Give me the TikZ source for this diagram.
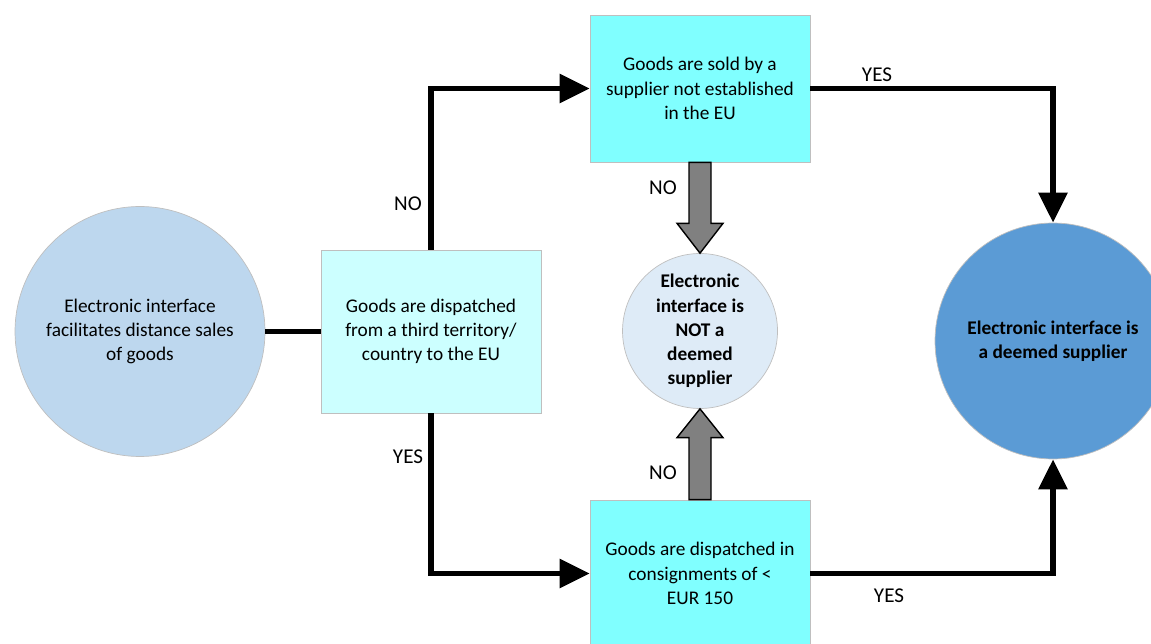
\documentclass[tikz,border=0pt]{standalone}
\usepackage{fontspec}
\setmainfont{Carlito}
\usetikzlibrary{arrows.meta,calc}

\definecolor{boxcyan}{HTML}{80FFFF}
\definecolor{boxpale}{HTML}{CCFFFF}
\definecolor{startblue}{HTML}{BDD7EE}
\definecolor{notblue}{HTML}{DEEBF7}
\definecolor{isblue}{HTML}{5B9BD5}

\begin{document}
\begin{tikzpicture}[x=0.02cm, y=-0.02cm, >={Triangle[length=0.6cm,width=0.56cm]}]
 \tikzstyle{every node}=[font=\fontsize{11}{13.8}\selectfont, align=center]
 \tikzstyle{question}=[draw=black!25, thin, minimum width=4.4cm, minimum height=2.94cm, inner sep=2pt]
 \tikzstyle{result}=[circle, draw=black!25, thin, inner sep=1pt]
 \tikzstyle{flow}=[line width=3.4pt, black]
 \tikzstyle{answer}=[font=\fontsize{12}{14}\selectfont]
 \tikzstyle{blockarrow}=[fill=black!50, draw=black, line width=0.8pt]
 \useasboundingbox (0,0) rectangle (1151,644);

 \node (facil) at (140,331.5) [result, fill=startblue, minimum size=5.0cm] {Electronic interface\\facilitates distance sales\\of goods};
 \node (third) at (431,331.5) [question, fill=boxpale, minimum height=3.26cm] {Goods are dispatched\\from a third territory/\\country to the EU};
 \node (sold) at (700,88.5) [question, fill=boxcyan] {Goods are sold by a\\supplier not established\\in the EU};
 \node (consign) at (700,573.5) [question, fill=boxcyan] {Goods are dispatched in\\consignments of <\\EUR 150};
 \node (notdeemed) at (700,331) [result, fill=notblue, minimum size=3.1cm] {\textbf{Electronic}\\\textbf{interface is}\\\textbf{NOT a}\\\textbf{deemed}\\\textbf{supplier}};
 \node (deemed) at (1053,341) [result, fill=isblue, minimum size=4.72cm] {\textbf{Electronic interface is}\\\textbf{a deemed supplier}};

 \node (noup) at (408,204) [answer] {NO};
 \node (yesdown) at (408,457) [answer] {YES};
 \node (yestop) at (877,75) [answer] {YES};
 \node (yesbottom) at (889,596) [answer] {YES};
 \node (nosold) at (663,188) [answer] {NO};
 \node (noconsign) at (663,473) [answer] {NO};

 \draw [flow] (facil.east) -- (third.west);
 \draw [flow, ->] (third.north) |- (sold.west);
 \draw [flow, ->] (third.south) |- (consign.west);
 \draw [flow, ->] (sold.east) -| (deemed.north);
 \draw [flow, ->] (consign.east) -| (deemed.south);

 % grey block arrows into the NOT circle
 \draw [blockarrow] ($(sold.south)+(-11,0)$) -- ++(0,61) -- ++(-12,0) -- (notdeemed.north)
   -- ($(sold.south)+(23,61)$) -- ++(-12,0) -- ($(sold.south)+(11,0)$) -- cycle;
 \draw [blockarrow] ($(consign.north)+(-11,0)$) -- ++(0,-62) -- ++(-12,0) -- (notdeemed.south)
   -- ($(consign.north)+(23,-62)$) -- ++(-12,0) -- ($(consign.north)+(11,0)$) -- cycle;

\end{tikzpicture}
\end{document}
